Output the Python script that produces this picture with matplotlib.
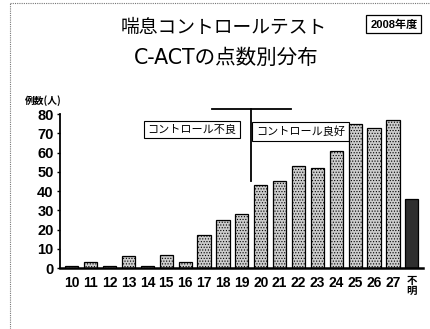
import matplotlib.pyplot as plt
import numpy as np

plt.rcParams['font.family'] = ['Liberation Sans', 'Noto Sans CJK JP', 'DejaVu Sans']
plt.rcParams['hatch.color'] = '#8a8a8a'
plt.rcParams['hatch.linewidth'] = 0.5

# C-ACT score and number of cases
scores = ['10', '11', '12', '13', '14', '15', '16', '17', '18', '19',
          '20', '21', '22', '23', '24', '25', '26', '27', '不\n明']
counts = [1, 3, 1, 6, 1, 7, 3, 17, 25, 28, 43, 45, 53, 52, 61, 75, 73, 77, 36]
unknown_idx = len(scores) - 1

fig = plt.figure(figsize=(4.30, 3.29), dpi=100)
ax = fig.add_axes([0.1395, 0.1854, 0.8445, 0.468])

x = np.arange(len(scores))
face = ['#cccccc'] * len(scores)
face[unknown_idx] = '#2e2e2e'
bars = ax.bar(x, counts, width=0.7, color=face, edgecolor='black',
              linewidth=0.9, hatch='......', zorder=2)
bars[unknown_idx].set_hatch(None)

ax.set_xlim(-0.63, 18.6)
ax.set_ylim(0, 80)
ax.set_yticks(range(0, 81, 10))
ax.set_xticks(x)
ax.set_xticklabels(scores, fontsize=10, fontweight='bold', linespacing=1.0,
                   va='top')
for lbl in ax.get_xticklabels()[-1:]:
    lbl.set_fontsize(7.5)
ax.tick_params(axis='x', length=0, pad=6)
ax.tick_params(axis='y', length=2.5, width=1, pad=2, labelsize=10.5)
for lbl in ax.get_yticklabels():
    lbl.set_fontweight('bold')

for side in ['top', 'right']:
    ax.spines[side].set_visible(False)
ax.spines['left'].set_linewidth(1.3)
ax.spines['bottom'].set_linewidth(1.8)

# divider between poorly and well controlled
ax.plot([7.4, 11.6], [82.4, 82.4], color='black', lw=1.3, clip_on=False)
ax.plot([9.5, 9.5], [82.4, 45], color='black', lw=1.3, clip_on=False)
ax.text(8.72, 72, 'コントロール不良', ha='right', va='center', fontsize=8,
        family=['Noto Sans CJK JP'],
        bbox=dict(boxstyle='square,pad=0.3', fc='white', ec='black', lw=0.8))
ax.text(9.75, 71, 'コントロール良好', ha='left', va='center', fontsize=8,
        family=['Noto Sans CJK JP'], zorder=1,
        bbox=dict(boxstyle='square,pad=0.4', fc='white', ec='black', lw=0.8))

# titles
fig.text(0.52, 0.915, '喘息コントロールテスト', ha='center', va='center',
         fontsize=13.5, family=['Noto Sans CJK JP'])
fig.text(0.525, 0.823, 'C-ACTの点数別分布', ha='center', va='center',
         fontsize=14.8, family=['DejaVu Sans', 'Noto Sans CJK JP'])
fig.text(0.916, 0.926, '2008年度', ha='center', va='center', fontsize=8,
         fontweight='bold', family=['Liberation Sans', 'Noto Sans CJK JP'],
         bbox=dict(boxstyle='square,pad=0.35', fc='white', ec='black', lw=0.9))
fig.text(0.058, 0.695, '例数(人)', ha='left', va='center', fontsize=7,
         fontweight='bold', family=['Noto Sans CJK JP'])

# frame
fig.add_artist(plt.Line2D([0.023, 1.0], [0.991, 0.991], color='#777777',
                          lw=0.8, ls=(0, (1, 1)), transform=fig.transFigure))
fig.add_artist(plt.Line2D([0.023, 0.023], [0.0, 0.991], color='#777777',
                          lw=0.8, ls=(0, (1, 1)), transform=fig.transFigure))

fig.savefig('out.png', dpi=100)
